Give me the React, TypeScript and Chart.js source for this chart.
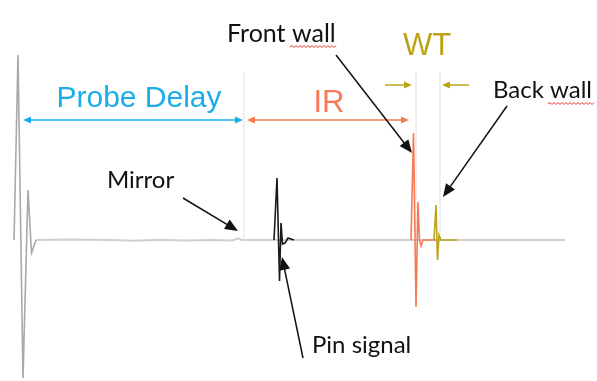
import { useEffect, useRef } from "react";
import { Chart, registerables } from "chart.js";

Chart.register(...registerables);

// ---- signal data (time in arbitrary units, amplitude in arbitrary units) ----
const mainBangTime = [14, 18, 23, 28, 31.5, 36];
const mainBangAmp = [0, 185, -138, 50, -13, 0];
const baselineTime = [36, 70, 110, 135, 160, 185, 210, 232, 238, 242, 260, 565];
const baselineAmp = [0, 0.5, 0, -0.8, 0.3, -0.6, 0, -0.4, 1.5, 0, 0, 0];
const pinTime = [274, 277, 279.5, 281, 282.5, 285, 288, 291, 294];
const pinAmp = [0, 62, -41, 17, -4, -3, 2, 1, 0];
const frontTime = [411, 413.5, 416, 418, 419.5, 421, 423, 436];
const frontAmp = [0, 107, -67, 38, 0, -6, 0, 0];
const backTime = [434, 436, 437.5, 439, 441, 457];
const backAmp = [0, 35, -20, 5, 0, 0];
const gateTimes = [244, 416, 440];
const gateTop = 167;

// ---- annotation texts (positions in data units) ----
const CYAN = "#19aee8";
const ORANGE = "#f77a55";
const GOLD = "#bba318";
const BLACK = "#111111";
const SANS = "'Liberation Sans', Arial, sans-serif";
const CAL = "Lato, 'Open Sans', sans-serif";

const textItems = [
  { text: "Probe Delay", t: 139, a: 133, color: CYAN, font: `30px ${SANS}`, align: "center" },
  { text: "IR", t: 329, a: 128, color: ORANGE, font: `31px ${SANS}`, align: "center" },
  { text: "WT", t: 427, a: 185, color: GOLD, font: `31px ${SANS}`, align: "center" },
  { text: "Front wall", t: 227, a: 198, color: BLACK, font: `25px ${CAL}`, align: "left" },
  { text: "Back wall", t: 493, a: 142, color: BLACK, font: `24px ${CAL}`, align: "left" },
  { text: "Mirror", t: 107, a: 52, color: BLACK, font: `24px ${CAL}`, align: "left" },
  { text: "Pin signal", t: 312, a: -113, color: BLACK, font: `24px ${CAL}`, align: "left" },
];

// arrows: from (t1,a1) to tip (t2,a2)
const arrowItems = [
  { t1: 23, a1: 120, t2: 243, a2: 120, color: CYAN, w: 1.5, both: true, hl: 8, hw: 7 },
  { t1: 247, a1: 120, t2: 409, a2: 120, color: ORANGE, w: 1.5, both: true, hl: 8, hw: 7 },
  { t1: 385, a1: 155, t2: 412, a2: 155, color: GOLD, w: 1.5, both: false, hl: 8, hw: 7 },
  { t1: 469, a1: 155, t2: 442, a2: 155, color: GOLD, w: 1.5, both: false, hl: 8, hw: 7 },
  { t1: 183, a1: 42, t2: 238, a2: 9, color: BLACK, w: 1.5, both: false, hl: 13, hw: 11 },
  { t1: 303, a1: -118, t2: 282, a2: -17, color: BLACK, w: 1.5, both: false, hl: 13, hw: 11 },
  { t1: 336, a1: 185, t2: 412, a2: 87, color: BLACK, w: 1.5, both: false, hl: 13, hw: 11 },
  { t1: 507, a1: 134, t2: 443, a2: 43, color: BLACK, w: 1.5, both: false, hl: 13, hw: 11 },
];

const squiggles = [
  { t1: 290, t2: 337, a: 193 },
  { t1: 548, t2: 595, a: 136 },
];

function pts(ts: number[], as: number[]) {
  return ts.map((t, i) => ({ x: t, y: as[i] }));
}

function head(ctx: CanvasRenderingContext2D, x1: number, y1: number, x2: number, y2: number, hl: number, hw: number) {
  const ang = Math.atan2(y2 - y1, x2 - x1);
  ctx.beginPath();
  ctx.moveTo(x2, y2);
  ctx.lineTo(x2 - hl * Math.cos(ang) + (hw / 2) * Math.sin(ang), y2 - hl * Math.sin(ang) - (hw / 2) * Math.cos(ang));
  ctx.lineTo(x2 - hl * Math.cos(ang) - (hw / 2) * Math.sin(ang), y2 - hl * Math.sin(ang) + (hw / 2) * Math.cos(ang));
  ctx.closePath();
  ctx.fill();
}

const annotPlugin = {
  id: "annot",
  afterDatasetsDraw(chart: any) {
    const ctx: CanvasRenderingContext2D = chart.ctx;
    const xs = chart.scales.x;
    const ys = chart.scales.y;
    const X = (t: number) => xs.getPixelForValue(t);
    const Y = (a: number) => ys.getPixelForValue(a);
    ctx.save();
    for (const ar of arrowItems) {
      const x1 = X(ar.t1), y1 = Y(ar.a1), x2 = X(ar.t2), y2 = Y(ar.a2);
      ctx.strokeStyle = ar.color;
      ctx.fillStyle = ar.color;
      ctx.lineWidth = ar.w;
      const ang = Math.atan2(y2 - y1, x2 - x1);
      const sx = ar.both ? x1 + (ar.hl - 1) * Math.cos(ang) : x1;
      const sy = ar.both ? y1 + (ar.hl - 1) * Math.sin(ang) : y1;
      ctx.beginPath();
      ctx.moveTo(sx, sy);
      ctx.lineTo(x2 - (ar.hl - 1) * Math.cos(ang), y2 - (ar.hl - 1) * Math.sin(ang));
      ctx.stroke();
      head(ctx, x1, y1, x2, y2, ar.hl, ar.hw);
      if (ar.both) head(ctx, x2, y2, x1, y1, ar.hl, ar.hw);
    }
    for (const tx of textItems) {
      ctx.font = tx.font;
      ctx.fillStyle = tx.color;
      ctx.textAlign = tx.align as CanvasTextAlign;
      ctx.textBaseline = "alphabetic";
      ctx.fillText(tx.text, X(tx.t), Y(tx.a));
    }
    ctx.strokeStyle = "#e8302a";
    ctx.lineWidth = 1;
    for (const sq of squiggles) {
      const x1 = X(sq.t1), x2 = X(sq.t2), y = Y(sq.a);
      ctx.beginPath();
      let up = true;
      ctx.moveTo(x1, y);
      for (let x = x1 + 2; x <= x2; x += 2) {
        ctx.lineTo(x, up ? y - 1.5 : y + 0.5);
        up = !up;
      }
      ctx.stroke();
    }
    ctx.restore();
  },
};

export default function App() {
  const ref = useRef<HTMLCanvasElement | null>(null);
  useEffect(() => {
    if (!ref.current) return;
    const gateSets = gateTimes.map((t) => ({
      data: [{ x: t, y: gateTop }, { x: t, y: 0 }],
      borderColor: "#c4c4c4",
      borderWidth: 1,
      borderDash: [1, 1],
      order: 10,
    }));
    const chart = new Chart(ref.current, {
      type: "line",
      data: {
        datasets: [
          { data: pts(baselineTime, baselineAmp), borderColor: "#cfcfcf", borderWidth: 2, order: 9 },
          ...gateSets,
          { data: pts(mainBangTime, mainBangAmp), borderColor: "#a9a9a9", borderWidth: 1.6, order: 8 },
          { data: pts(pinTime, pinAmp), borderColor: "#1a1a1a", borderWidth: 1.6, order: 3 },
          { data: pts(frontTime, frontAmp), borderColor: ORANGE, borderWidth: 1.6, order: 2 },
          { data: pts(backTime, backAmp), borderColor: GOLD, borderWidth: 1.6, order: 1 },
        ] as any,
      },
      options: {
        animation: false,
        responsive: false,
        layout: { padding: 0 },
        elements: { point: { radius: 0 }, line: { tension: 0 } },
        plugins: { legend: { display: false }, tooltip: { enabled: false } },
        scales: {
          x: { type: "linear", min: 0, max: 597, display: false },
          y: { type: "linear", min: -141, max: 240, display: false },
        },
      },
      plugins: [annotPlugin],
    });
    return () => chart.destroy();
  }, []);
  return (
    <div style={{ position: "fixed", left: 0, top: 0, width: 597, height: 381, background: "#fff" }}>
      <canvas ref={ref} width={597} height={381} style={{ display: "block" }} />
    </div>
  );
}
